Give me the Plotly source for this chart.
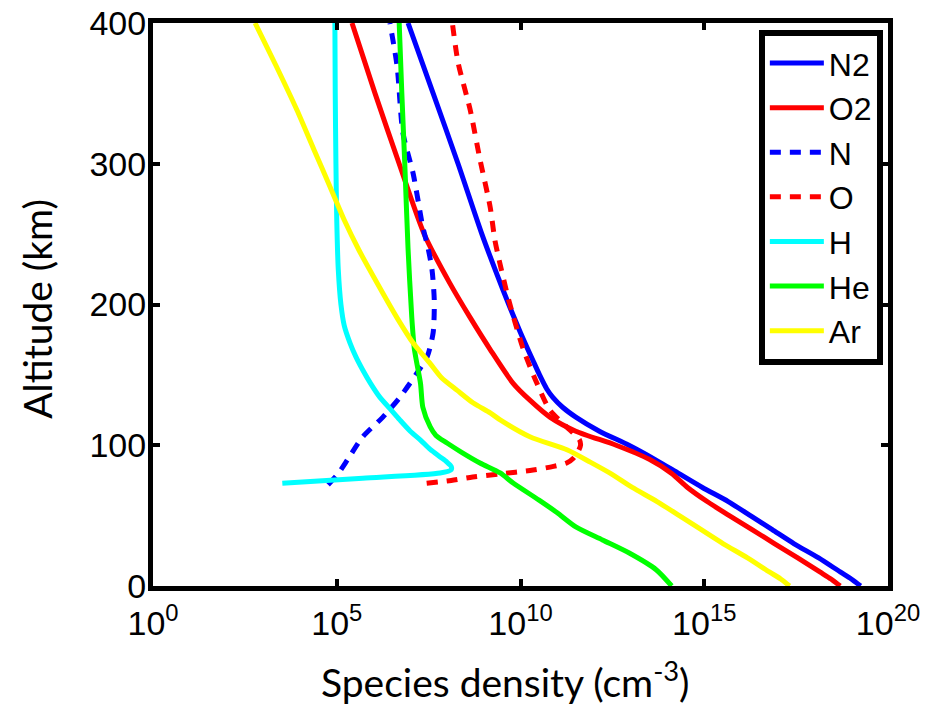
import plotly.graph_objects as go

# Altitude profiles (km) and number densities (cm^-3) for each species
alt_n2 = [0, 5, 10, 20, 30, 40, 50, 60, 70, 80, 90, 100, 110, 120, 127, 134, 140, 150, 160, 180, 200, 220, 250, 300, 350, 400]
den_n2 = [1.8e19, 1.0e19, 5.0e18, 1.3e18, 2.8e17, 7.1e16, 1.8e16, 4.5e15, 8.9e14, 2.0e14, 4.5e13, 8.9e12, 1.4e12, 3.2e11,
          1.4e11, 7.6e10, 5.2e10, 3.3e10, 2.2e10, 1.0e10, 4.8e9, 2.4e9, 8.9e8, 2.0e8, 4.2e7, 8.7e6]

alt_o2 = [0, 5, 10, 20, 30, 40, 50, 60, 70, 80, 90, 100, 110, 120, 132, 144, 168, 191, 215, 250, 300, 350, 400]
den_o2 = [5.0e18, 2.8e18, 1.4e18, 3.5e17, 8.3e16, 2.0e16, 4.8e15, 1.2e15, 3.5e14, 1.3e14, 3.2e13, 4.0e12, 3.2e11, 6.3e10,
          1.8e10, 6.3e9, 1.5e9, 4.2e8, 1.2e8, 2.4e7, 5.0e6, 1.1e6, 2.6e5]

alt_n = [72, 80, 90, 106, 120, 134, 151, 163, 180, 203, 225, 241, 255, 293, 322, 369, 400]
den_n = [5.8e4, 1.1e5, 2.0e5, 5.1e5, 1.8e6, 5.2e6, 1.5e7, 2.9e7, 4.2e7, 4.5e7, 3.9e7, 3.0e7, 2.2e7, 1.2e7, 6.3e6, 4.4e6, 2.8e6]

alt_o = [73, 75, 77.4, 79.5, 82.4, 85, 87.4, 91, 95, 100, 104, 113, 125, 144, 168, 203, 232, 246, 269, 303, 338, 372, 400]
den_o = [2.8e7, 1.3e8, 5.0e8, 2.5e9, 2.2e10, 7.9e10, 1.8e11, 2.8e11, 3.6e11, 4.3e11, 4.0e11, 1.8e11, 6.3e10, 2.8e10,
         1.2e10, 4.8e9, 2.6e9, 2.0e9, 1.5e9, 7.9e8, 4.3e8, 2.0e8, 1.4e8]

alt_h = [73, 76.6, 80.3, 82.6, 85, 88, 91.7, 97, 103.7, 110, 118, 126, 134, 144, 153.5, 163, 172.6, 185, 200, 225, 260, 300, 350, 400]
den_h = [3.3e3, 5.1e5, 6.5e7, 1.3e8, 1.3e8, 1.0e8, 6.5e7, 3.5e7, 1.9e7, 1.0e7, 5.2e6, 2.8e6, 1.5e6, 8.3e5, 5.1e5,
         3.3e5, 2.3e5, 1.6e5, 1.3e5, 1.1e5, 1.0e5, 9.5e4, 9.1e4, 8.9e4]

alt_he = [0, 11.4, 23.4, 32.7, 42, 52, 61, 73.2, 80.3, 87.4, 95, 101.6, 107, 113, 127, 144, 168, 191, 240, 300, 350, 400]
den_he = [1.3e14, 5.0e13, 9.1e12, 1.7e12, 3.2e11, 1.0e11, 3.2e10, 6.3e9, 2.8e9, 7.9e8, 2.5e8, 1.0e8, 5.0e7, 3.5e7,
          2.2e7, 1.9e7, 1.3e7, 1.1e7, 8.7e6, 7.1e6, 5.9e6, 5.0e6]

alt_ar = [0, 5, 10, 20, 30, 40, 50, 60, 70, 80, 88, 96.6, 106, 118, 123, 130, 139, 148, 158, 172.6, 190, 208, 238.7, 260,
          283.5, 310, 338, 370, 400]
den_ar = [2.1e17, 1.2e17, 5.9e16, 1.5e16, 3.3e15, 8.3e14, 2.1e14, 5.2e13, 1.1e13, 2.8e12, 7.9e11, 1.9e11, 1.8e10, 2.8e9,
          1.5e9, 5.2e8, 1.9e8, 7.1e7, 3.5e7, 1.2e7, 4.5e6, 1.8e6, 4.0e5, 1.6e5, 6.6e4, 2.4e4, 8.3e3, 2.2e3, 6.0e2]

species = [
    ("N2", den_n2, alt_n2, "#0000FF", "solid"),
    ("O2", den_o2, alt_o2, "#FF0000", "solid"),
    ("N", den_n, alt_n, "#0000FF", "11px,9px"),
    ("O", den_o, alt_o, "#FF0000", "11px,9px"),
    ("H", den_h, alt_h, "#00FFFF", "solid"),
    ("He", den_he, alt_he, "#00FF00", "solid"),
    ("Ar", den_ar, alt_ar, "#FFFF00", "solid"),
]

x_tickvals = [1e0, 1e5, 1e10, 1e15, 1e20]
x_ticktext = ["10<sup>0</sup>", "10<sup>5</sup>", "10<sup>10</sup>", "10<sup>15</sup>", "10<sup>20</sup>"]
y_tickvals = [0, 100, 200, 300, 400]

fig = go.Figure()
for name, den, alt, color, dash in species:
    fig.add_trace(go.Scatter(
        x=den, y=alt, name=name, mode="lines",
        line=dict(color=color, width=5, dash=dash, shape="spline", smoothing=0.7),
    ))

axis_common = dict(
    showline=True, linewidth=5, linecolor="black", mirror="ticks",
    ticks="inside", ticklen=7, tickwidth=4, tickcolor="black",
    showgrid=False, zeroline=False, automargin=False, ticklabeloverflow="allow",
    tickfont=dict(family="Liberation Sans", size=34, color="black"),
)

fig.update_layout(
    width=928, height=704,
    margin=dict(l=153, r=40, t=23, b=118, pad=0, autoexpand=False),
    paper_bgcolor="white", plot_bgcolor="white",
    showlegend=True,
    legend=dict(
        x=0.993, y=0.988, xanchor="right", yanchor="top",
        bgcolor="white", bordercolor="black", borderwidth=6,
        font=dict(family="Liberation Sans", size=32, color="black"),
        itemwidth=54, tracegroupgap=0,
    ),
    xaxis=dict(type="log", range=[0, 20], tickvals=x_tickvals, ticktext=x_ticktext,
               ticklabelstandoff=3, **axis_common),
    yaxis=dict(range=[0, 400], tickvals=y_tickvals, ticklabelstandoff=-5, **axis_common),
    annotations=[
        dict(text="Species density (cm<sup>-3</sup>)", xref="paper", yref="paper",
             x=0.479, y=-0.1665, xanchor="center", yanchor="middle", showarrow=False,
             font=dict(family="Lato", size=39, color="black")),
        dict(text="Altitude (km)", xref="paper", yref="paper", textangle=-90,
             x=-0.158, y=0.492, xanchor="center", yanchor="middle", showarrow=False,
             font=dict(family="Lato", size=39, color="black")),
    ],
)

fig.write_html("out.html")
